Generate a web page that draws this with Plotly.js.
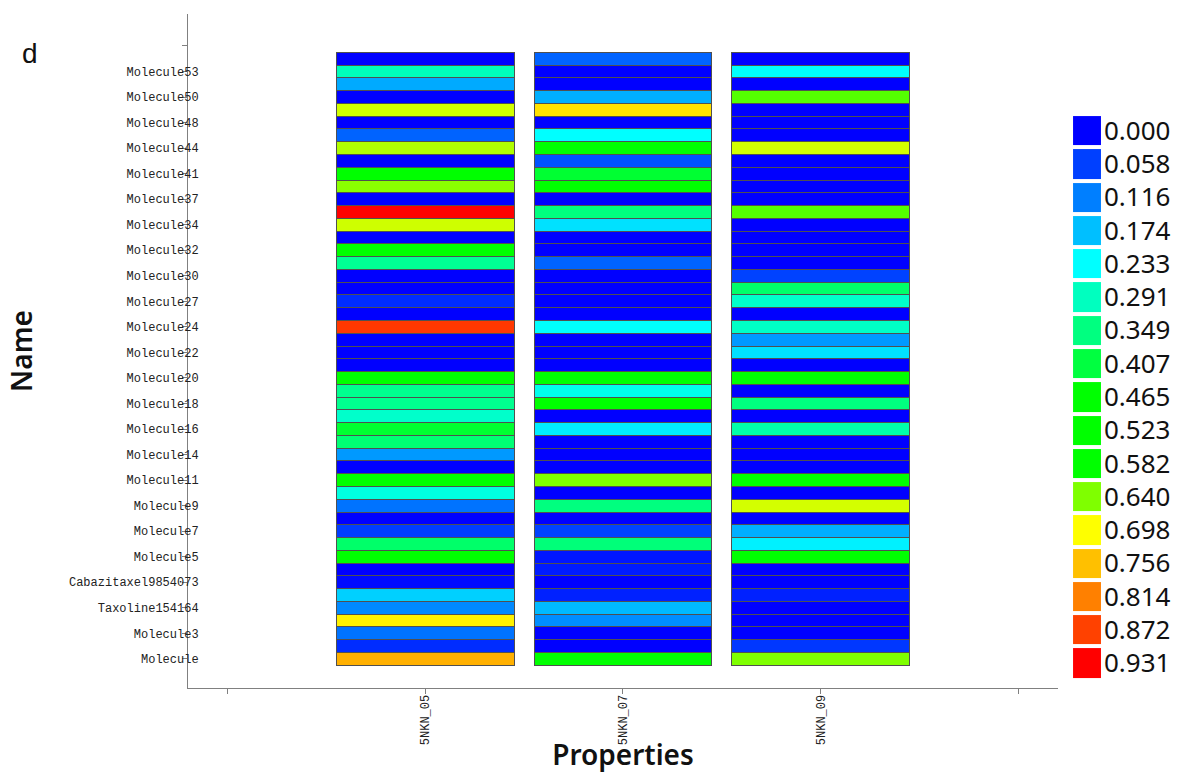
<!DOCTYPE html>
<html>
<head>
<meta charset="utf-8">
<script src="https://cdn.plot.ly/plotly-3.0.1.min.js"></script>
<style>html,body{margin:0;padding:0;background:#fff;}#chart{width:1186px;height:773px;}</style>
</head>
<body>
<div id="chart"></div>
<script>
// Columns (properties)
const properties = ['5NKN_05', '5NKN_07', '5NKN_09'];

// Row names, listed top -> bottom as they appear
const names = [
  'Molecule54','Molecule53','Molecule52','Molecule50','Molecule49','Molecule48',
  'Molecule46','Molecule44','Molecule42','Molecule41','Molecule38','Molecule37',
  'Molecule35','Molecule34','Molecule33','Molecule32','Molecule31','Molecule30',
  'Molecule28','Molecule27','Molecule25','Molecule24','Molecule23','Molecule22',
  'Molecule21','Molecule20','Molecule19','Molecule18','Molecule17','Molecule16',
  'Molecule15','Molecule14','Molecule12','Molecule11','Molecule10','Molecule9',
  'Molecule8','Molecule7','Molecule6','Molecule5','Molecule4','Cabazitaxel9854073',
  'Docetaxel148124','Taxoline154164','Paclitaxel36314','Molecule3','Molecule2','Molecule'
];

// Values per property, top -> bottom
const v05 = [0, 0.295, 0.155, 0, 0.678, 0, 0.09, 0.662, 0, 0.50, 0.645, 0,
             0.931, 0.676, 0, 0.50, 0.33, 0, 0, 0.04, 0, 0.88, 0, 0,
             0, 0.50, 0.335, 0.335, 0.28, 0.42, 0.36, 0.14, 0, 0.50, 0.26, 0.105,
             0, 0.055, 0.37, 0.48, 0, 0.01, 0.19, 0.125, 0.71, 0.105, 0.04, 0.77];
const v07 = [0.09, 0, 0, 0.16, 0.725, 0, 0.233, 0.50, 0.075, 0.42, 0.50, 0,
             0.35, 0.205, 0, 0, 0.09, 0, 0, 0, 0, 0.235, 0, 0,
             0, 0.50, 0.25, 0.48, 0, 0.215, 0, 0, 0, 0.64, 0, 0.35,
             0, 0.06, 0.355, 0.02, 0.025, 0, 0.03, 0.17, 0.13, 0, 0, 0.50];
const v09 = [0, 0.235, 0, 0.62, 0, 0, 0, 0.678, 0, 0, 0, 0,
             0.62, 0, 0, 0, 0, 0.06, 0.37, 0.28, 0, 0.285, 0.14, 0.205,
             0, 0.50, 0, 0.35, 0, 0.31, 0, 0, 0, 0.50, 0, 0.678,
             0, 0.16, 0.22, 0.50, 0, 0, 0.03, 0, 0, 0, 0.05, 0.64];

// Legend (discrete key) values
const legendValues = [0.000, 0.058, 0.116, 0.174, 0.233, 0.291, 0.349, 0.407, 0.465,
                      0.523, 0.582, 0.640, 0.698, 0.756, 0.814, 0.872, 0.931];

const zMin = 0, zMax = 0.931;
const colorscale = [
  [0, '#0000FF'], [0.25, '#00FFFF'], [0.5, '#00FF00'], [0.625, '#00FF00'],
  [0.75, '#FFFF00'], [1, '#FF0000']
];

const columns = [v05, v07, v09];
const N = names.length;
const xPos = properties.map((p, i) => i + 1);

const traces = [];
// stack rows bottom -> top
for (let r = N - 1; r >= 0; r--) {
  traces.push({
    type: 'bar',
    x: xPos,
    y: properties.map(() => 1),
    marker: {
      color: columns.map(c => c[r]),
      colorscale: colorscale, cmin: zMin, cmax: zMax,
      line: {color: '#505050', width: 1}
    },
    name: names[r],
    showlegend: false,
    hoverinfo: 'skip'
  });
}

// legend key as a small heatmap
traces.push({
  type: 'heatmap',
  xaxis: 'x2', yaxis: 'y2',
  z: legendValues.map(v => [v]),
  x: [0],
  y: legendValues.map((v, i) => i),
  colorscale: colorscale, zmin: zMin, zmax: zMax,
  ygap: 4, showscale: false, hoverinfo: 'skip'
});

// y tick labels on every other row, counted from the bottom
const bottomUp = names.slice().reverse();
const yTickVals = [], yTickText = [];
bottomUp.forEach((n, k) => { if (k % 2 === 0) { yTickVals.push(k + 0.5); yTickText.push(n); } });
yTickVals.push(N + 0.5); yTickText.push('');

const axisGrey = '#808080';
const layout = {
  width: 1186, height: 773,
  margin: {l: 188, r: 0, t: 14, b: 85},
  paper_bgcolor: '#fff', plot_bgcolor: '#fff',
  barmode: 'stack', bargap: 0.1,
  showlegend: false,
  xaxis: {
    domain: [0, 0.8717], range: [-0.2, 4.2],
    tickvals: [0].concat(xPos, [properties.length + 1]),
    ticktext: [''].concat(properties, ['']),
    tickangle: -90,
    tickfont: {family: 'Liberation Mono', size: 12, color: '#222'},
    ticklabelstandoff: -4,
    showline: true, linecolor: axisGrey, linewidth: 1,
    ticks: 'outside', ticklen: 5, tickcolor: axisGrey,
    showgrid: false, zeroline: false, fixedrange: true,
    title: {text: 'Properties', font: {family: 'Noto Sans', size: 28, weight: 600, color: '#111'}, standoff: 6}
  },
  yaxis: {
    domain: [0, 1], range: [-1.78, 51.0],
    tickvals: yTickVals, ticktext: yTickText,
    tickfont: {family: 'Liberation Mono', size: 12, color: '#222'},
    ticklabelstandoff: -19,
    showline: true, linecolor: axisGrey, linewidth: 1,
    ticks: 'outside', ticklen: 5, tickcolor: axisGrey,
    showgrid: false, zeroline: false, fixedrange: true,
    title: {text: 'Name', font: {family: 'Noto Sans', size: 28, weight: 600, color: '#111'}, standoff: 28}
  },
  xaxis2: {
    domain: [0.8868, 0.9148], anchor: 'y2', range: [-0.5, 0.5],
    visible: false, fixedrange: true
  },
  yaxis2: {
    domain: [0.0122, 0.8516], anchor: 'x2', range: [16.5, -0.5],
    side: 'right',
    tickvals: legendValues.map((v, i) => i),
    ticktext: legendValues.map(v => v.toFixed(3)),
    tickfont: {family: 'Noto Sans', size: 26, color: '#111'},
    ticklabelstandoff: 2,
    showline: false, ticks: '', showgrid: false, zeroline: false, fixedrange: true
  },
  annotations: [{
    text: 'd', xref: 'paper', yref: 'paper', x: -0.1583, y: 0.942,
    xanchor: 'center', yanchor: 'middle', showarrow: false,
    font: {family: 'Liberation Sans', size: 28, color: '#111'}
  }]
};

Plotly.newPlot('chart', traces, layout, {displayModeBar: false, staticPlot: true});
</script>
</body>
</html>
